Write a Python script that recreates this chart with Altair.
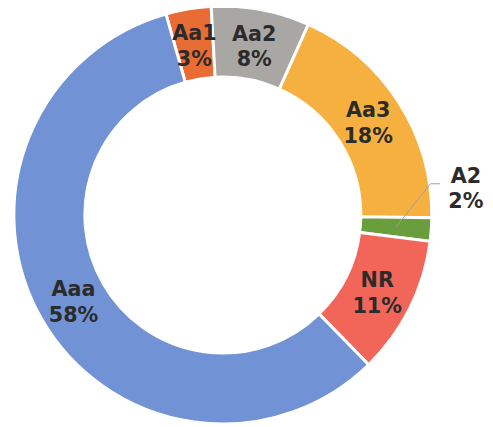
import altair as alt
import pandas as pd
import math

categories = ["Aa1", "Aa2", "Aa3", "A2", "NR", "Aaa"]
shares = [3.5, 7.6, 18.5, 1.8, 10.7, 57.9]
pct_labels = ["3%", "8%", "18%", "2%", "11%", "58%"]
colors = ["#E86C34", "#A9A7A4", "#F6B040", "#6A9D3C", "#F2665A", "#7192D4"]

START = math.radians(-15.8) + 2 * math.pi
TOTAL = sum(shares)

df = pd.DataFrame({
    "category": categories,
    "value": shares,
    "pct": pct_labels,
    "order": list(range(len(categories))),
})
df["label"] = [f"{c}\n{p}" for c, p in zip(categories, pct_labels)]

W, H = 436, 414
LH = 26

theta_scale = alt.Scale(domain=[0, TOTAL], range=[START, START + 2 * math.pi])

base = alt.Chart(df).encode(
    theta=alt.Theta("value:Q", stack=True, scale=theta_scale),
    order=alt.Order("order:Q"),
)

arcs = base.mark_arc(outerRadius=212, innerRadius=140, stroke="white", strokeWidth=3).encode(
    color=alt.Color("category:N", scale=alt.Scale(domain=categories, range=colors), legend=None)
)

txt_style = dict(font="DejaVu Sans", fontWeight="bold", fontSize=21, color="#2B2B2B",
                 lineBreak="\n", lineHeight=LH, align="center", baseline="middle")

mids = alt.Chart(df).transform_window(
    cum="sum(value)", sort=[alt.SortField("order")]
).transform_calculate(
    mid="datum.cum - datum.value/2",
    ang=f"{START} + (datum.cum - datum.value/2)/{TOTAL}*2*PI",
)

inner_text = mids.transform_filter("datum.category != 'A2'").mark_text(
    radius=175, dy=-LH / 2 + 2, **txt_style
).encode(theta=alt.Theta("mid:Q", stack=None, scale=theta_scale), text="label:N")

outer_text = mids.transform_filter("datum.category == 'A2'").mark_text(
    radius=175, dx=72, dy=-38 - LH / 2, **txt_style
).encode(theta=alt.Theta("mid:Q", stack=None, scale=theta_scale), text="label:N")

leader_base = mids.transform_filter("datum.category == 'A2'").transform_calculate(
    x1="176*sin(datum.ang)", y1="176*cos(datum.ang)"
).transform_calculate(
    x2="datum.x1 + 35", y2="datum.y1 + 44"
).transform_calculate(
    x3="datum.x2 + 10"
)

xs = alt.Scale(domain=[-W / 2, W / 2], nice=False, zero=False)
ys = alt.Scale(domain=[-H / 2, H / 2], nice=False, zero=False)

leader1 = leader_base.mark_rule(color="#A0A0A0", strokeWidth=1).encode(
    x=alt.X("x1:Q", scale=xs, axis=None), y=alt.Y("y1:Q", scale=ys, axis=None),
    x2="x2:Q", y2="y2:Q")
leader2 = leader_base.mark_rule(color="#A0A0A0", strokeWidth=1).encode(
    x=alt.X("x2:Q", scale=xs, axis=None), y=alt.Y("y2:Q", scale=ys, axis=None),
    x2="x3:Q", y2="y2:Q")

chart = alt.layer(arcs, leader1, leader2, inner_text, outer_text).properties(
    width=W, height=H,
    padding={"left": 0, "top": 0, "right": 48, "bottom": 5},
    autosize=alt.AutoSizeParams(type="none"),
    background="white",
).configure_view(stroke=None)

chart.save("out.html", embed_options={"renderer": "svg", "actions": False})
